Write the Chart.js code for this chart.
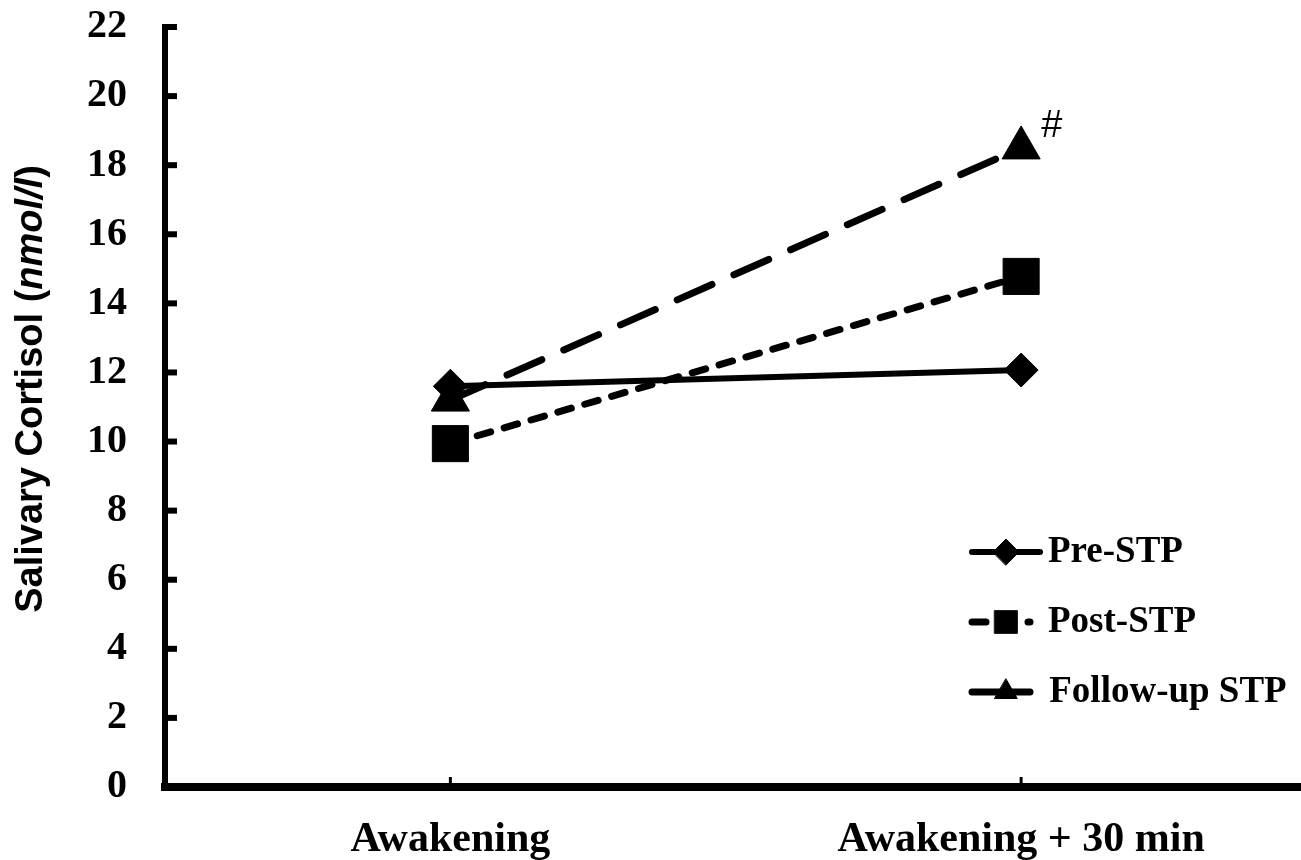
<!DOCTYPE html>
<html>
<head>
<meta charset="utf-8">
<script src="https://cdn.jsdelivr.net/npm/chart.js@4.4.1/dist/chart.umd.min.js"></script>
<style>
  html, body { margin: 0; padding: 0; background: #fff; overflow: hidden; }
  canvas { display: block; }
</style>
</head>
<body>
<canvas id="grafico" width="1333" height="860"></canvas>
<script>
// datos
const momentos = ["Awakening", "Awakening + 30 min"];
const preSTP = [11.6, 12.07];
const postSTP = [9.94, 14.78];
const followSTP = [11.2, 18.5];
const nombres = ["Pre-STP", "Post-STP", " Follow-up STP"];
const ejeYmin = 0;
const ejeYmax = 22;
const pasoY = 2;
const marca = "#";

const serif = '"Liberation Serif", "Times New Roman", serif';
const sans = '"Liberation Sans", Arial, sans-serif';

// marcas de los ejes hacia dentro + titulo del eje y
const ejes = {
  id: "ejes",
  afterDraw(chart) {
    const ctx = chart.ctx;
    const a = chart.chartArea;
    const sx = chart.scales.x, sy = chart.scales.y;
    ctx.save();
    ctx.strokeStyle = "#000";
    ctx.lineWidth = 6;
    sy.ticks.forEach((t, i) => {
      if (t.value === 0) return;
      const py = sy.getPixelForTick(i);
      ctx.beginPath();
      ctx.moveTo(a.left, py);
      ctx.lineTo(a.left + 12, py);
      ctx.stroke();
    });
    // esquina donde se juntan los ejes
    ctx.fillStyle = "#000";
    ctx.fillRect(a.left - 3, a.bottom - 4, 6, 8);
    ctx.lineWidth = 3;
    sx.ticks.forEach((t, i) => {
      const px = sx.getPixelForTick(i);
      ctx.beginPath();
      ctx.moveTo(px, a.bottom);
      ctx.lineTo(px, a.bottom - 10);
      ctx.stroke();
    });

    // titulo eje y con parte en cursiva
    const partes = [
      ["Salivary Cortisol (", "bold 38px " + sans],
      ["nmol/l", "italic bold 38px " + sans],
      [")", "bold 38px " + sans]
    ];
    let total = 0;
    partes.forEach(p => { ctx.font = p[1]; total += ctx.measureText(p[0]).width; });
    ctx.translate(32, 389);
    ctx.rotate(-Math.PI / 2);
    ctx.textBaseline = "middle";
    ctx.textAlign = "left";
    let x = -total / 2;
    partes.forEach(p => {
      ctx.font = p[1];
      ctx.fillText(p[0], x, 0);
      x += ctx.measureText(p[0]).width;
    });
    ctx.restore();
  }
};

// leyenda dibujada a mano (linea + marcador)
const leyenda = {
  id: "leyenda",
  afterDraw(chart) {
    const ctx = chart.ctx;
    const radios = [13, 16, 13];
    const trazos = [[], [14, 14], []];
    const fin = [1040, 1030, 1030];
    ctx.save();
    chart.data.datasets.forEach((ds, i) => {
      const yy = 552 + i * 70;
      ctx.strokeStyle = "#000";
      ctx.fillStyle = "#000";
      ctx.lineWidth = ds.borderWidth;
      ctx.lineCap = "round";
      ctx.setLineDash(trazos[i]);
      ctx.beginPath();
      ctx.moveTo(972, yy);
      ctx.lineTo(fin[i], yy);
      ctx.stroke();
      ctx.setLineDash([]);
      ctx.lineWidth = 1;
      if (Chart.helpers && Chart.helpers.drawPoint) {
        Chart.helpers.drawPoint(ctx, { pointStyle: ds.pointStyle, radius: radios[i], rotation: 0, borderWidth: 1 }, 1006, yy);
      }
      ctx.font = "bold 37px " + serif;
      ctx.textBaseline = "middle";
      ctx.textAlign = "left";
      ctx.fillText(ds.label, i === 2 ? 1040 : 1048, yy);
    });
    ctx.restore();
  }
};

// el "#" junto al ultimo triangulo
const almohadilla = {
  id: "almohadilla",
  afterDatasetsDraw(chart) {
    const p = chart.getDatasetMeta(2).data[1];
    if (!p) return;
    const ctx = chart.ctx;
    ctx.save();
    ctx.fillStyle = "#000";
    ctx.font = "38px " + sans;
    ctx.textBaseline = "middle";
    ctx.textAlign = "left";
    ctx.fillText(marca, p.x + 20, p.y - 21);
    ctx.restore();
  }
};

const ctx = document.getElementById("grafico");

new Chart(ctx, {
  type: "line",
  data: {
    labels: momentos,
    datasets: [
      {
        label: nombres[0],
        data: preSTP,
        borderColor: "#000",
        backgroundColor: "#000",
        borderWidth: 6,
        pointStyle: "rectRot",
        pointRadius: 17,
        pointBorderWidth: 1
      },
      {
        label: nombres[1],
        data: postSTP,
        borderColor: "#000",
        backgroundColor: "#000",
        borderWidth: 7,
        borderDash: [14, 14],
        borderCapStyle: "round",
        pointStyle: "rect",
        pointRadius: 25.5,
        pointBorderWidth: 1
      },
      {
        label: nombres[2],
        data: followSTP,
        borderColor: "#000",
        backgroundColor: "#000",
        borderWidth: 7,
        borderDash: [38, 24],
        borderCapStyle: "round",
        pointStyle: "triangle",
        pointRadius: 22,
        pointBorderWidth: 1
      }
    ]
  },
  options: {
    responsive: false,
    animation: false,
    events: [],
    clip: false,
    layout: { padding: { top: 27, right: 0, left: 0, bottom: 0 } },
    plugins: {
      legend: { display: false },
      tooltip: { enabled: false }
    },
    scales: {
      x: {
        type: "category",
        offset: true,
        grid: { display: false, drawTicks: false },
        border: { display: true, color: "#000", width: 8 },
        ticks: {
          color: "#000",
          font: { family: serif, size: 42, weight: "bold" },
          padding: 28,
          maxRotation: 0
        },
        afterFit(scale) {
          scale.height = 73;
          scale.paddingLeft = 0;
          scale.paddingRight = 0;
        }
      },
      y: {
        min: ejeYmin,
        max: ejeYmax,
        grid: { display: false, drawTicks: false },
        border: { display: true, color: "#000", width: 6 },
        ticks: {
          stepSize: pasoY,
          color: "#000",
          font: { family: serif, size: 40, weight: "bold" },
          padding: 38
        },
        afterFit(scale) {
          scale.width = 165;
          scale.paddingTop = 0;
          scale.paddingBottom = 0;
        }
      }
    }
  },
  plugins: [ejes, leyenda, almohadilla]
});
</script>
</body>
</html>
